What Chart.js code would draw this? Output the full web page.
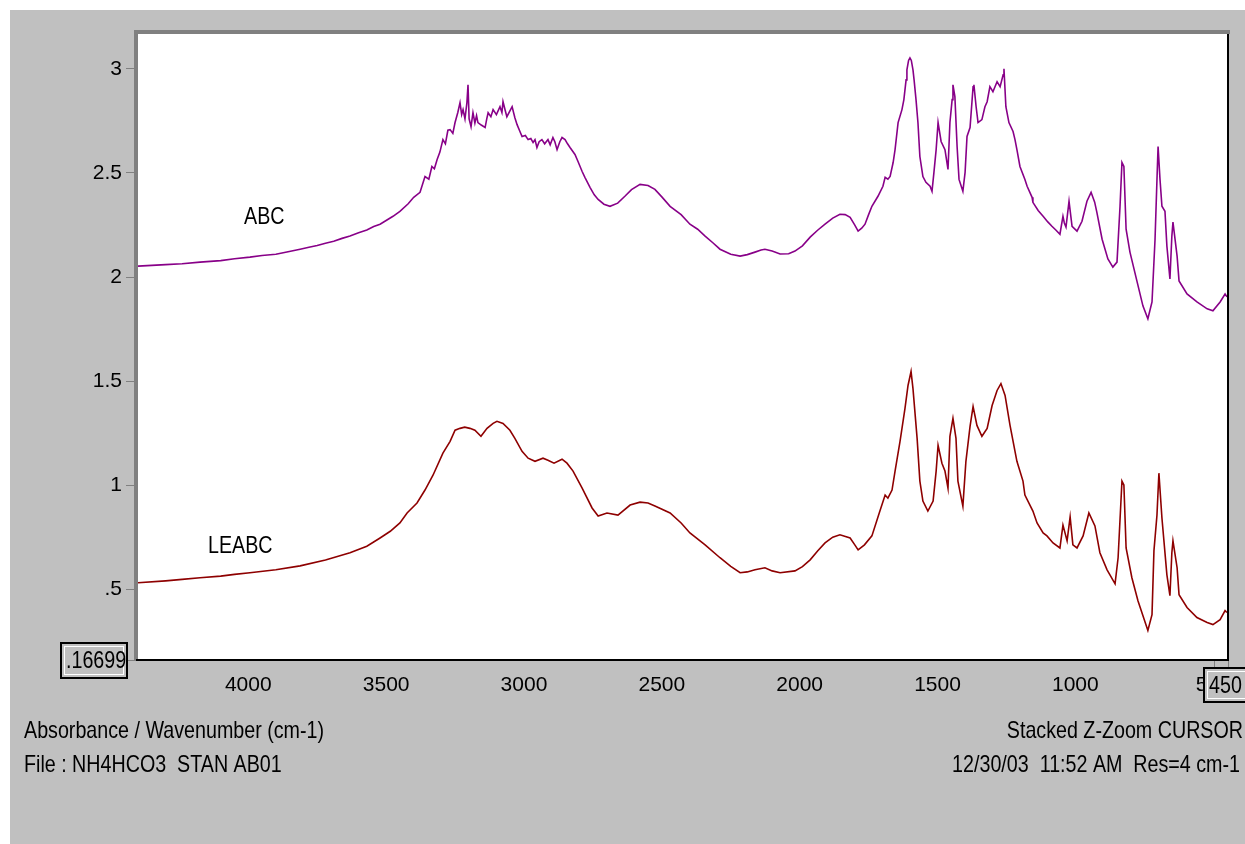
<!DOCTYPE html>
<html>
<head>
<meta charset="utf-8">
<title>NH4HCO3 STAN AB01</title>
<script src="https://cdn.jsdelivr.net/npm/chart.js@4.4.1/dist/chart.umd.min.js"></script>
<style>
  html, body { margin: 0; padding: 0; background: #fff; }
  canvas { display: block; }
</style>
</head>
<body>
<canvas id="spectrum" width="1245" height="844"></canvas>
<script>
// ABC spectrum (upper trace), wavenumber in cm-1 / absorbance
const abcWavenumber = [
  4400, 4300, 4240, 4175, 4100, 4050, 3994, 3950, 3900, 3860, 3812, 3780, 3750, 3720, 3690, 3660,
  3631, 3600, 3570, 3545, 3522, 3500, 3475, 3450, 3420, 3400, 3377, 3359, 3345, 3334, 3325, 3315,
  3305, 3294, 3285, 3276, 3268, 3258, 3250, 3240, 3232, 3226, 3221, 3214, 3207, 3203, 3199, 3192,
  3185, 3178, 3172, 3167, 3155, 3141, 3135, 3130, 3120, 3112, 3100, 3087, 3080, 3076, 3068, 3062,
  3050, 3043, 3033, 3025, 3015, 3007, 2995, 2985, 2975, 2967, 2960, 2953, 2945, 2935, 2925, 2913,
  2905, 2895, 2888, 2880, 2870, 2862, 2851, 2842, 2833, 2815, 2804, 2789, 2779, 2760, 2745, 2731,
  2710, 2688, 2660, 2634, 2610, 2579, 2550, 2525, 2500, 2470, 2430, 2398, 2370, 2343, 2315, 2289,
  2250, 2216, 2190, 2162, 2140, 2126, 2100, 2071, 2040, 2017, 1990, 1962, 1935, 1908, 1880, 1854,
  1835, 1817, 1800, 1788, 1775, 1763, 1750, 1738, 1716, 1698, 1690, 1680, 1672, 1661, 1654, 1643,
  1629, 1622, 1614, 1611, 1605, 1600, 1595, 1589, 1585, 1578, 1571, 1564, 1553, 1542, 1527, 1520,
  1513, 1505, 1498, 1487, 1473, 1462, 1455, 1447, 1444, 1437, 1429, 1422, 1408, 1400, 1393, 1382,
  1371, 1368, 1360, 1353, 1339, 1328, 1320, 1310, 1299, 1284, 1273, 1262, 1259, 1252, 1241, 1226,
  1219, 1212, 1201, 1183, 1175, 1157, 1154, 1135, 1117, 1100, 1085, 1070, 1056, 1045, 1040, 1034,
  1023, 1012, 994, 976, 958, 943, 930, 922, 903, 882, 864, 849, 838, 831, 824, 816,
  802, 776, 755, 737, 722, 711, 704, 700, 693, 686, 675, 668, 657, 650, 646, 631,
  624, 595, 559, 522, 501, 475, 457, 450
];
const abcAbsorbance = [
  2.053, 2.060, 2.064, 2.072, 2.079, 2.088, 2.096, 2.104, 2.110, 2.121, 2.134, 2.143, 2.152, 2.163, 2.172, 2.186,
  2.197, 2.213, 2.226, 2.243, 2.254, 2.272, 2.292, 2.316, 2.352, 2.383, 2.407, 2.483, 2.470, 2.531, 2.520, 2.565,
  2.600, 2.660, 2.640, 2.705, 2.708, 2.690, 2.742, 2.790, 2.837, 2.780, 2.804, 2.760, 2.837, 2.923, 2.760, 2.722,
  2.789, 2.740, 2.775, 2.742, 2.730, 2.718, 2.760, 2.789, 2.770, 2.804, 2.780, 2.818, 2.790, 2.842, 2.800, 2.770,
  2.800, 2.818, 2.765, 2.732, 2.700, 2.675, 2.680, 2.660, 2.665, 2.646, 2.660, 2.622, 2.650, 2.660, 2.640, 2.660,
  2.635, 2.670, 2.650, 2.612, 2.650, 2.670, 2.660, 2.640, 2.622, 2.589, 2.555, 2.507, 2.479, 2.430, 2.395, 2.373,
  2.350, 2.340, 2.355, 2.388, 2.420, 2.445, 2.440, 2.421, 2.385, 2.340, 2.300, 2.254, 2.230, 2.197, 2.165, 2.134,
  2.110, 2.101, 2.108, 2.120, 2.130, 2.134, 2.125, 2.111, 2.112, 2.125, 2.150, 2.192, 2.225, 2.254, 2.283, 2.302,
  2.300, 2.287, 2.250, 2.221, 2.235, 2.254, 2.300, 2.340, 2.388, 2.436, 2.479, 2.470, 2.483, 2.550, 2.612, 2.742,
  2.804, 2.852, 2.947, 2.995, 3.040, 3.052, 3.040, 2.995, 2.947, 2.852, 2.742, 2.579, 2.483, 2.455, 2.436, 2.412,
  2.503, 2.612, 2.742, 2.651, 2.612, 2.517, 2.742, 2.852, 2.923, 2.866, 2.627, 2.469, 2.412, 2.503, 2.675, 2.718,
  2.914, 2.923, 2.818, 2.742, 2.756, 2.818, 2.842, 2.914, 2.890, 2.938, 2.914, 2.971, 3.000, 2.818, 2.742, 2.699,
  2.660, 2.612, 2.531, 2.469, 2.436, 2.383, 2.359, 2.320, 2.292, 2.265, 2.244, 2.225, 2.206, 2.292, 2.260, 2.240,
  2.364, 2.244, 2.221, 2.268, 2.364, 2.407, 2.360, 2.311, 2.182, 2.087, 2.048, 2.072, 2.340, 2.550, 2.531, 2.230,
  2.120, 1.977, 1.862, 1.800, 1.881, 2.182, 2.469, 2.627, 2.469, 2.340, 2.316, 2.149, 1.991, 2.197, 2.264, 2.101,
  1.982, 1.919, 1.881, 1.848, 1.838, 1.881, 1.919, 1.905
];

// LEABC spectrum (lower trace)
const leabcWavenumber = [
  4400, 4300, 4240, 4175, 4100, 4050, 3994, 3900, 3812, 3720, 3631, 3570, 3522, 3485, 3450, 3424,
  3388, 3359, 3330, 3294, 3268, 3250, 3232, 3215, 3196, 3178, 3156, 3134, 3112, 3098, 3076, 3051,
  3033, 3007, 2985, 2960, 2931, 2913, 2891, 2862, 2844, 2822, 2789, 2753, 2731, 2699, 2659, 2615,
  2579, 2550, 2525, 2470, 2430, 2398, 2343, 2289, 2250, 2216, 2190, 2162, 2126, 2100, 2071, 2017,
  1990, 1962, 1935, 1908, 1880, 1854, 1817, 1800, 1788, 1765, 1738, 1709, 1690, 1680, 1665, 1654,
  1636, 1618, 1607, 1596, 1589, 1574, 1564, 1553, 1535, 1516, 1505, 1498, 1484, 1473, 1462, 1455,
  1444, 1433, 1426, 1408, 1397, 1382, 1371, 1357, 1339, 1320, 1302, 1284, 1270, 1255, 1237, 1212,
  1190, 1183, 1154, 1139, 1117, 1103, 1081, 1056, 1045, 1030, 1019, 1009, 994, 972, 951, 929,
  911, 885, 856, 845, 831, 824, 816, 795, 773, 737, 722, 715, 704, 697, 686, 668,
  657, 650, 646, 631, 624, 595, 559, 522, 501, 475, 457, 450
];
const leabcAbsorbance = [
  0.533, 0.542, 0.549, 0.557, 0.565, 0.573, 0.581, 0.595, 0.614, 0.642, 0.677, 0.708, 0.748, 0.780, 0.820, 0.868,
  0.916, 0.978, 1.049, 1.155, 1.212, 1.265, 1.274, 1.280, 1.274, 1.265, 1.236, 1.274, 1.298, 1.308, 1.298, 1.265,
  1.226, 1.164, 1.131, 1.116, 1.131, 1.121, 1.107, 1.126, 1.107, 1.069, 0.987, 0.892, 0.853, 0.868, 0.858, 0.906,
  0.920, 0.916, 0.901, 0.868, 0.820, 0.772, 0.715, 0.653, 0.612, 0.581, 0.585, 0.595, 0.605, 0.590, 0.581, 0.590,
  0.610, 0.643, 0.685, 0.724, 0.752, 0.763, 0.748, 0.715, 0.691, 0.715, 0.758, 0.877, 0.954, 0.939, 0.978, 1.069,
  1.212, 1.370, 1.480, 1.547, 1.465, 1.226, 1.021, 0.925, 0.877, 0.925, 1.069, 1.193, 1.107, 1.069, 0.987, 1.236,
  1.322, 1.226, 1.021, 0.901, 1.116, 1.284, 1.379, 1.288, 1.236, 1.274, 1.384, 1.456, 1.489, 1.432, 1.288, 1.116,
  1.021, 0.954, 0.877, 0.820, 0.772, 0.758, 0.724, 0.700, 0.810, 0.734, 0.849, 0.715, 0.700, 0.758, 0.868, 0.806,
  0.677, 0.595, 0.528, 0.653, 1.021, 1.002, 0.700, 0.557, 0.447, 0.304, 0.380, 0.686, 0.858, 1.059, 0.844, 0.571,
  0.471, 0.677, 0.734, 0.605, 0.476, 0.414, 0.366, 0.342, 0.332, 0.356, 0.399, 0.390
];

const xTicks = [4000, 3500, 3000, 2500, 2000, 1500, 1000, 500];
const yTicks = [0.5, 1, 1.5, 2, 2.5, 3];
const xMin = 450, xMax = 4400;
const yMin = 0.16699, yMax = 3.16699;

function toPoints(xs, ys) {
    return xs.map((x, i) => ({ x: x, y: ys[i] }));
}

// use a narrow face when there is one, else squeeze the regular one
function hasFont(name) {
    const c = document.createElement('canvas').getContext('2d');
    c.font = '40px monospace';
    const base = c.measureText('mmmWWW4000').width;
    c.font = '40px "' + name + '", monospace';
    return c.measureText('mmmWWW4000').width !== base;
}
const narrow = hasFont('Liberation Sans Narrow');
const tickFamily = narrow ? '"Liberation Sans Narrow"' : '"Liberation Sans", Arial, sans-serif';
const tickSize = narrow ? 24 : 21;

function drawText(ctx, str, x, y, align) {
    ctx.save();
    ctx.fillStyle = '#000';
    ctx.textBaseline = 'middle';
    ctx.textAlign = align || 'left';
    ctx.translate(x, y);
    if (narrow) {
        ctx.font = '24px "Liberation Sans Narrow"';
    } else {
        ctx.font = '24px "Liberation Sans", Arial, sans-serif';
        ctx.scale(0.82, 1);
    }
    ctx.fillText(str, 0, 0);
    ctx.restore();
}

function drawBox(ctx, x, y, w, h, label) {
    ctx.save();
    ctx.fillStyle = '#c0c0c0';
    ctx.fillRect(x, y, w, h);
    ctx.strokeStyle = '#000';
    ctx.lineWidth = 2;
    ctx.strokeRect(x + 1, y + 1, w - 2, h - 2);
    ctx.strokeStyle = '#fff';
    ctx.lineWidth = 1;
    ctx.strokeRect(x + 4.5, y + 4.5, w - 9, h - 9);
    ctx.restore();
    drawText(ctx, label, x + 6, y + h / 2 + 1, 'left');
}

const panelPlugin = {
    id: 'panel',
    beforeDraw(chart) {
        const ctx = chart.ctx;
        const a = chart.chartArea;
        ctx.save();
        ctx.fillStyle = '#c0c0c0';
        ctx.fillRect(10, 10, 1235, 834);
        ctx.fillStyle = '#fff';
        ctx.fillRect(a.left, a.top, a.right - a.left, a.bottom - a.top);
        ctx.restore();
    },
    afterDraw(chart) {
        const ctx = chart.ctx;
        const a = chart.chartArea;
        ctx.save();
        // sunken frame round the plot
        ctx.fillStyle = '#808080';
        ctx.fillRect(a.left - 4, a.top - 4, a.right - a.left + 7, 4);
        ctx.fillRect(a.left - 4, a.top - 4, 4, a.bottom - a.top + 6);
        ctx.fillStyle = '#000';
        ctx.fillRect(a.right, a.top, 2, a.bottom - a.top + 2);
        ctx.fillRect(a.left - 2, a.bottom, a.right - a.left + 4, 2);

        // cursor limit boxes
        ctx.strokeStyle = '#808080';
        ctx.lineWidth = 1;
        ctx.beginPath();
        ctx.moveTo(128, a.bottom + 1.5);
        ctx.lineTo(a.left - 4, a.bottom + 1.5);
        ctx.moveTo(1214.5, a.bottom + 2);
        ctx.lineTo(1214.5, 667);
        ctx.moveTo(1228.5, a.bottom + 2);
        ctx.lineTo(1228.5, 667);
        ctx.stroke();
        ctx.restore();

        drawBox(ctx, 60, 642, 68, 37, '.16699');
        drawBox(ctx, 1203, 667, 50, 36, '450');

        drawText(ctx, 'ABC', 244, 217, 'left');
        drawText(ctx, 'LEABC', 208, 546, 'left');

        drawText(ctx, 'Absorbance / Wavenumber (cm-1)', 24, 731, 'left');
        drawText(ctx, 'File : NH4HCO3  STAN AB01', 24, 765, 'left');
        drawText(ctx, 'Stacked Z-Zoom CURSOR', 1243, 731, 'right');
        drawText(ctx, '12/30/03  11:52 AM  Res=4 cm-1', 1240, 765, 'right');
    }
};

new Chart(document.getElementById('spectrum'), {
    type: 'line',
    data: {
        datasets: [
            {
                label: 'ABC',
                data: toPoints(abcWavenumber, abcAbsorbance),
                borderColor: '#880088',
                borderWidth: 1.6,
                pointRadius: 0,
                tension: 0
            },
            {
                label: 'LEABC',
                data: toPoints(leabcWavenumber, leabcAbsorbance),
                borderColor: '#8e0000',
                borderWidth: 1.6,
                pointRadius: 0,
                tension: 0
            }
        ]
    },
    options: {
        responsive: false,
        animation: false,
        layout: { padding: { left: 0, top: 34, right: 18, bottom: 0 } },
        scales: {
            x: {
                type: 'linear',
                reverse: true,
                min: xMin,
                max: xMax,
                afterFit: s => { s.height = 185; },
                afterBuildTicks: s => { s.ticks = xTicks.map(v => ({ value: v })); },
                grid: { display: false, drawTicks: false },
                border: { display: false },
                ticks: {
                    padding: 14,
                    maxRotation: 0,
                    autoSkip: false,
                    color: '#000',
                    font: { family: tickFamily, size: tickSize },
                    callback: v => String(v)
                }
            },
            y: {
                type: 'linear',
                min: yMin,
                max: yMax,
                afterFit: s => { s.width = 138; },
                afterBuildTicks: s => { s.ticks = yTicks.map(v => ({ value: v })); },
                grid: { drawOnChartArea: false, tickLength: 12, color: '#808080' },
                border: { display: false },
                ticks: {
                    padding: 4,
                    color: '#000',
                    font: { family: tickFamily, size: tickSize },
                    callback: v => (v === 0.5 ? '.5' : String(v))
                }
            }
        },
        plugins: {
            legend: { display: false },
            tooltip: { enabled: false }
        }
    },
    plugins: [panelPlugin]
});
</script>
</body>
</html>
